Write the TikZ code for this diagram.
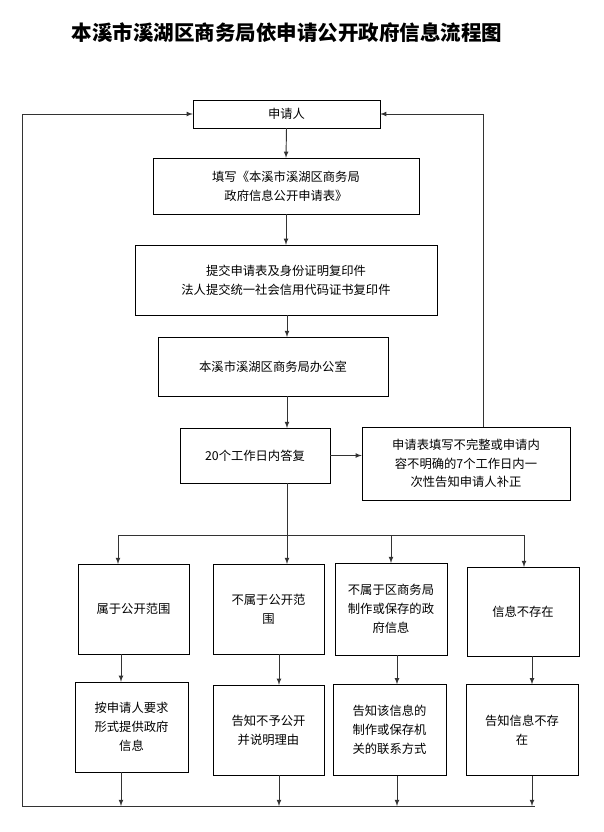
\documentclass[tikz,border=0pt]{standalone}
\usepackage{fontspec}
\newfontfamily\cjk{Noto Sans CJK SC}
\usetikzlibrary{positioning}

\begin{document}
\begin{tikzpicture}[x=0.03cm, y=-0.03cm, >=latex, font=\cjk\fontsize{10.5}{16}\selectfont]

    % Styles
    \tikzset{
        box/.style={draw=black, align=center, inner sep=0pt},
        flow/.style={->, black!80, thick}
    }

    \useasboundingbox (0,0) rectangle (603,832);

    % Title
    \node[font=\cjk\bfseries\fontsize{17.5}{20}\selectfont] (title) at (287,33) {本溪市溪湖区商务局依申请公开政府信息流程图};

    % Main chain
    \node[box, minimum width=187*0.03cm, minimum height=28*0.03cm] (app) at (286.5,114) {申请人};
    \node[box, minimum width=266*0.03cm, minimum height=56*0.03cm] (form) at (286,186) {填写《本溪市溪湖区商务局\\政府信息公开申请表》};
    \node[box, minimum width=302*0.03cm, minimum height=70*0.03cm] (submit) at (286,280) {提交申请表及身份证明复印件\\法人提交统一社会信用代码证书复印件};
    \node[box, minimum width=230*0.03cm, minimum height=59*0.03cm] (office) at (273,366.5) {本溪市溪湖区商务局办公室};
    \node[box, minimum width=150*0.03cm, minimum height=55*0.03cm] (reply) at (255,455.5) {20个工作日内答复};
    \node[box, minimum width=208*0.03cm, minimum height=73*0.03cm] (fix) at (466,463.5) {申请表填写不完整或申请内\\容不明确的7个工作日内一\\次性告知申请人补正};

    % Branch row
    \node[box, minimum width=111*0.03cm, minimum height=90*0.03cm] (b1) at (133.5,609) {属于公开范围};
    \node[box, minimum width=111*0.03cm, minimum height=90*0.03cm] (b2) at (268.5,609) {不属于公开范\\围};
    \node[box, minimum width=112*0.03cm, minimum height=92*0.03cm] (b3) at (391,609) {不属于区商务局\\制作或保存的政\\府信息};
    \node[box, minimum width=112*0.03cm, minimum height=89*0.03cm] (b4) at (523,611.5) {信息不存在};

    % Result row
    \node[box, minimum width=113*0.03cm, minimum height=90*0.03cm] (r1) at (131.5,727) {按申请人要求\\形式提供政府\\信息};
    \node[box, minimum width=111*0.03cm, minimum height=90*0.03cm] (r2) at (268.5,730) {告知不予公开\\并说明理由};
    \node[box, minimum width=113*0.03cm, minimum height=91*0.03cm] (r3) at (389.5,730) {告知该信息的\\制作或保存机\\关的联系方式};
    \node[box, minimum width=112*0.03cm, minimum height=91*0.03cm] (r4) at (522,730) {告知信息不存\\在};

    % Helper coordinates
    \coordinate (split) at (287,535);
    \coordinate (bottom) at (22,806);
    \coordinate (bend) at (535,806);

    % Chain arrows
    \draw[flow] (app.south) -- (form.north);
    \draw[flow] (form.south) -- (submit.north);
    \draw[flow] (submit.south -| office.north) ++(14,0) -- (287,337);
    \draw[flow] (287,396) -- (287,428);
    \draw[flow] (reply.east) -- (reply.east -| fix.west);
    \draw[flow] (fix.north) ++(17,0) |- (app.east);
    \draw[flow] (bottom) |- (app.west);

    % Branches
    \draw[thick, black!80] (287,483) -- (split);
    \draw[thick, black!80] (118,535) -- (524,535);
    \draw[flow] (118,535) -- (118,564);
    \draw[flow] (split) -- (287,564);
    \draw[flow] (391,535) -- (391,563);
    \draw[flow] (524,535) -- (524,567);

    % Results
    \foreach \i/\x in {1/121, 2/279, 3/397, 4/532} {
        \draw[flow] (b\i.south -| \x,0) -- (r\i.north -| \x,0);
        \draw[flow] (r\i.south -| \x,0) -- (\x,806);
    }
    \draw[thick, black!80] (bottom) -- (bend);

\end{tikzpicture}
\end{document}
